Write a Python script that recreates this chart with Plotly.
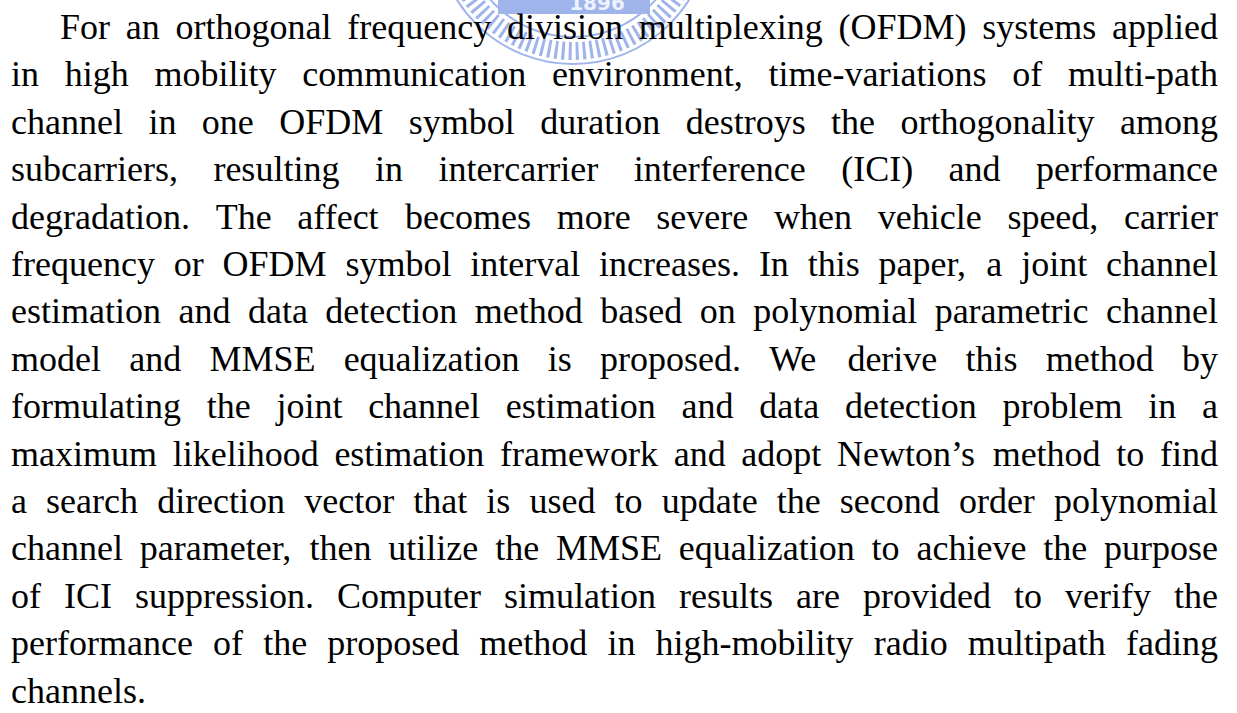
import plotly.graph_objects as go

# -----------------------------
# Text of the abstract, one entry per printed line
# -----------------------------
lines = [
    "For an orthogonal frequency division multiplexing (OFDM) systems applied",
    "in high mobility communication environment, time-variations of multi-path",
    "channel in one OFDM symbol duration destroys the orthogonality among",
    "subcarriers, resulting in intercarrier interference (ICI) and performance",
    "degradation. The affect becomes more severe when vehicle speed, carrier",
    "frequency or OFDM symbol interval increases. In this paper, a joint channel",
    "estimation and data detection method based on polynomial parametric channel",
    "model and MMSE equalization is proposed. We derive this method by",
    "formulating the joint channel estimation and data detection problem in a",
    "maximum likelihood estimation framework and adopt Newton\u2019s method to find",
    "a search direction vector that is used to update the second order polynomial",
    "channel parameter, then utilize the MMSE equalization to achieve the purpose",
    "of ICI suppression. Computer simulation results are provided to verify the",
    "performance of the proposed method in high-mobility radio multipath fading",
    "channels.",
]
watermark_label = "1896"

# Times / Liberation Serif advance widths (1/1000 em), used for justification
widths = {
    " ": 250, "(": 333, ")": 333, ",": 250, "-": 333, ".": 250, "\u2019": 333, "'": 333,
    "A": 722, "B": 667, "C": 667, "D": 722, "E": 611, "F": 556, "G": 722, "H": 722,
    "I": 333, "J": 389, "K": 722, "L": 611, "M": 889, "N": 722, "O": 722, "P": 556,
    "Q": 722, "R": 667, "S": 556, "T": 611, "U": 722, "V": 722, "W": 944, "X": 722,
    "Y": 722, "Z": 611,
    "a": 444, "b": 500, "c": 444, "d": 500, "e": 444, "f": 333, "g": 500, "h": 500,
    "i": 278, "j": 278, "k": 500, "l": 278, "m": 778, "n": 500, "o": 500, "p": 500,
    "q": 500, "r": 333, "s": 389, "t": 278, "u": 500, "v": 500, "w": 722, "x": 500,
    "y": 500, "z": 444,
}

# -----------------------------
# Page geometry
# -----------------------------
W, H = 1237, 713
font_size = 36
left, right = 11, 1218
indent = 49
first_baseline = 39
line_step = 47.4


def word_width(word):
    return sum(widths.get(c, 500) for c in word) * font_size / 1000


xs, ys, words = [], [], []
for i, line in enumerate(lines):
    parts = line.split()
    start = left + (indent if i == 0 else 0)
    ww = [word_width(p) for p in parts]
    if i < len(lines) - 1 and len(parts) > 1:
        gap = (right - start - sum(ww)) / (len(parts) - 1)  # justified
    else:
        gap = widths[" "] * font_size / 1000
    x = start
    baseline = first_baseline + i * line_step
    for p, w in zip(parts, ww):
        xs.append(x)
        ys.append(baseline - 0.25 * font_size)  # 'middle' text sits 0.25em above baseline
        words.append(p)
        x += w + gap

fig = go.Figure()

# faint seal watermark behind the first line
cx, cy = 573, -73
seal = "#9fb4ea"
for r, lw, dash in [(137, 2, "solid"), (124, 18, "3px,4px"), (110, 2, "solid")]:
    fig.add_shape(type="circle", x0=cx - r, x1=cx + r, y0=cy - r, y1=cy + r,
                  line=dict(color=seal, width=lw, dash=dash), layer="below")
fig.add_shape(type="rect", x0=498, x1=650, y0=-5, y1=14,
              fillcolor=seal, line=dict(width=0), layer="below")

fig.add_trace(go.Scatter(
    x=[597], y=[5], mode="text", text=["<b>" + watermark_label + "</b>"],
    textposition="middle center",
    textfont=dict(family="DejaVu Sans", size=20, color="#eef2fc"),
    hoverinfo="skip",
))

fig.add_trace(go.Scatter(
    x=xs, y=ys, mode="text", text=words,
    textposition="middle right",
    textfont=dict(family="Liberation Serif, Times New Roman, serif", size=font_size, color="black"),
    hoverinfo="skip",
))

fig.update_xaxes(range=[0, W], visible=False, fixedrange=True)
fig.update_yaxes(range=[H, 0], visible=False, fixedrange=True)
fig.update_layout(
    width=W, height=H,
    margin=dict(l=0, r=0, t=0, b=0),
    paper_bgcolor="white", plot_bgcolor="white",
    showlegend=False,
)

# page body has a default 8px margin; drop it so the figure fills the window
fig.write_html("out.html", config={"displayModeBar": False},
               post_script="document.body.style.margin='0';")
